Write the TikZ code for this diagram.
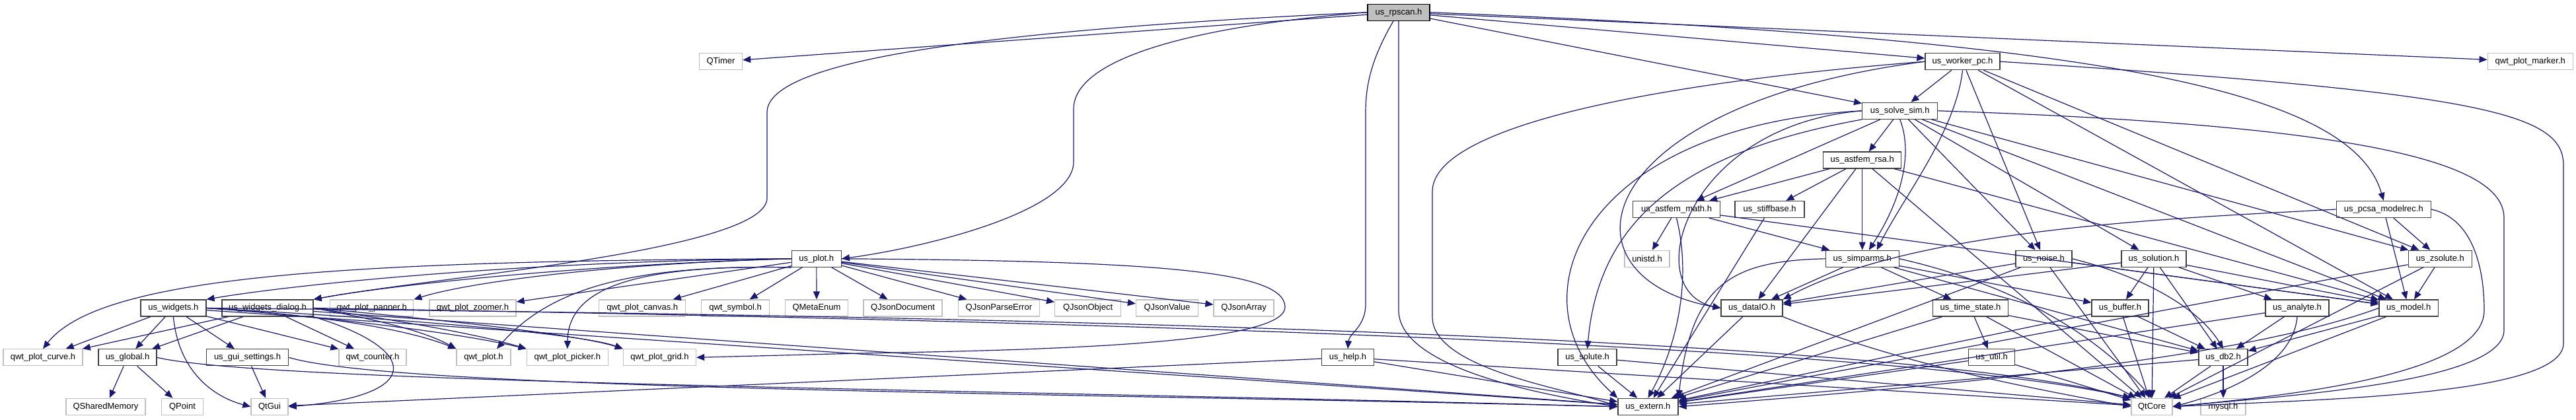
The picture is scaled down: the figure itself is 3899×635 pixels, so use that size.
\documentclass[tikz,border=0pt]{standalone}
\usepackage{fontspec}
\setmainfont{Liberation Sans}
\usetikzlibrary{arrows.meta}
\definecolor{edgec}{HTML}{191970}
\definecolor{greyb}{HTML}{BFBFBF}
\definecolor{docb}{HTML}{404040}
\begin{document}
\begin{tikzpicture}[x=1pt,y=-1pt,
  nd/.style={draw=docb, line width=1.3pt, fill=white, minimum height=25pt, inner sep=0pt, font=\fontsize{13}{15}\selectfont, text=black},
  gn/.style={nd, draw=greyb},
  dep/.style={draw=edgec, line width=1.2pt, -{Triangle[length=12pt,width=10pt]}}]
\fill[white] (0,0) rectangle (3899,635);
\useasboundingbox (0,0) rectangle (3899,635);
% row 0
\node[nd, fill=greyb, draw=black, minimum width=94pt] (rp) at (2117,18.7) {us\_rpscan.h};
% row 1
\node[gn, minimum width=65pt] (qtimer) at (1091,93.2) {QTimer};
\node[nd, minimum width=113pt] (worker) at (2970.5,93.2) {us\_worker\_pc.h};
\node[gn, minimum width=129pt] (marker) at (3829.7,93.2) {qwt\_plot\_marker.h};
% row 2
\node[nd, minimum width=114pt] (solve) at (2875.7,167.8) {us\_solve\_sim.h};
% row 3
\node[nd, minimum width=118pt] (rsa) at (2818.7,242.5) {us\_astfem\_rsa.h};
% row 4
\node[nd, minimum width=132pt] (math) at (2537.5,317) {us\_astfem\_math.h};
\node[nd, minimum width=105pt] (stiff) at (2678.6,317) {us\_stiffbase.h};
\node[nd, minimum width=143pt] (pcsa) at (3607.8,317) {us\_pcsa\_modelrec.h};
% row 5
\node[nd, minimum width=75pt] (plot) at (1235.8,391.8) {us\_plot.h};
\node[gn, minimum width=68pt] (unistd) at (2493,391.8) {unistd.h};
\node[nd, minimum width=111pt] (simparms) at (2818.7,391.8) {us\_simparms.h};
\node[nd, minimum width=85pt] (noise) at (3093.4,391.8) {us\_noise.h};
\node[nd, minimum width=98pt] (solution) at (3260,391.8) {us\_solution.h};
\node[nd, minimum width=96pt] (zsolute) at (3693.3,391.8) {us\_zsolute.h};
% row 6
\node[nd, minimum width=99pt] (widgets) at (262.4,466.5) {us\_widgets.h};
\node[nd, minimum width=138pt] (wdialog) at (405,466.5) {us\_widgets\_dialog.h};
\node[gn, minimum width=126pt] (panner) at (562.8,466.5) {qwt\_plot\_panner.h};
\node[gn, minimum width=131pt] (zoomer) at (715.5,466.5) {qwt\_plot\_zoomer.h};
\node[gn, minimum width=131pt] (canvas) at (972.3,466.5) {qwt\_plot\_canvas.h};
\node[gn, minimum width=103pt] (symbol) at (1113,466.5) {qwt\_symbol.h};
\node[gn, minimum width=95pt] (metaenum) at (1236,466.5) {QMetaEnum};
\node[gn, minimum width=119pt] (jdoc) at (1366.6,466.5) {QJsonDocument};
\node[gn, minimum width=123pt] (jperr) at (1511.9,466.5) {QJsonParseError};
\node[gn, minimum width=100pt] (jobj) at (1646.6,466.5) {QJsonObject};
\node[gn, minimum width=94pt] (jval) at (1766.5,466.5) {QJsonValue};
\node[gn, minimum width=91pt] (jarr) at (1882.6,466.5) {QJsonArray};
\node[nd, minimum width=93pt] (dataio) at (2651.6,466.5) {us\_dataIO.h};
\node[nd, minimum width=114pt] (tstate) at (2982.5,466.5) {us\_time\_state.h};
\node[nd, minimum width=86pt] (buffer) at (3209,466.5) {us\_buffer.h};
\node[nd, minimum width=96pt] (analyte) at (3477,466.5) {us\_analyte.h};
\node[nd, minimum width=89pt] (model) at (3645.6,466.5) {us\_model.h};
% row 7
\node[gn, minimum width=120pt] (curve) at (65,541.3) {qwt\_plot\_curve.h};
\node[nd, minimum width=88pt] (global) at (193,541.3) {us\_global.h};
\node[nd, minimum width=124pt] (gui) at (374.6,541.3) {us\_gui\_settings.h};
\node[gn, minimum width=102pt] (counter) at (564,541.3) {qwt\_counter.h};
\node[gn, minimum width=82pt] (qplot) at (732,541.3) {qwt\_plot.h};
\node[gn, minimum width=123pt] (picker) at (858.8,541.3) {qwt\_plot\_picker.h};
\node[gn, minimum width=110pt] (grid) at (998.5,541.3) {qwt\_plot\_grid.h};
\node[nd, minimum width=79pt] (help) at (2040,541.3) {us\_help.h};
\node[nd, minimum width=89pt] (solute) at (2402.6,541.3) {us\_solute.h};
\node[nd, minimum width=70pt] (util) at (3014.6,541.3) {us\_util.h};
\node[nd, minimum width=74pt] (db2) at (3365,541.3) {us\_db2.h};
% row 8
\node[gn, minimum width=120pt] (shmem) at (160,615.8) {QSharedMemory};
\node[gn, minimum width=63pt] (qpoint) at (276,615.8) {QPoint};
\node[gn, minimum width=56pt] (qtgui) at (408,615.8) {QtGui};
\node[nd, minimum width=91pt] (extern) at (2494.4,615.8) {us\_extern.h};
\node[gn, minimum width=62pt] (qtcore) at (3257,615.8) {QtCore};
\node[gn, minimum width=68pt] (mysql) at (3365,615.8) {mysql.h};

% ---- us_rpscan.h
\draw[dep] (rp) -- (qtimer);
\draw[dep] (rp.west) .. controls (1500,45) and (1161,90) .. (1161,170) -- (1161,300) .. controls (1161,380) and (650,420) .. (wdialog.north east);
\draw[dep] (rp.west) .. controls (1800,40) and (1625,90) .. (1625,165) -- (1625,245) .. controls (1625,320) and (1400,375) .. (plot.east);
\draw[dep] ([xshift=-8pt]rp.south) .. controls (2075,90) and (2067,130) .. (2067,170) -- (2067,460) .. controls (2067,495) and (2042,505) .. (help.north);
\draw[dep] (rp.south) -- (2117,470) .. controls (2117,560) and (2350,600) .. (extern.west);
\draw[dep] (rp) -- (worker);
\draw[dep] (rp) -- (solve);
\draw[dep] (rp) -- (marker);
\draw[dep] (rp.east) .. controls (3200,60) and (3560,140) .. (pcsa.north);
% ---- us_worker_pc.h
\draw[dep] (worker) -- (solve);
\draw[dep] (worker.west) .. controls (2450,130) and (2168,200) .. (2168,290) -- (2168,480) .. controls (2168,560) and (2380,590) .. (extern.west);
\draw[dep] (worker.west) .. controls (2400,160) and (2350,420) .. (dataio.west);
\draw[dep] (worker.south) .. controls (2960,200) and (2880,300) .. ([xshift=22pt]simparms.north);
\draw[dep] (worker) -- (noise);
\draw[dep] (worker) -- (model);
\draw[dep] (worker) -- (zsolute);
\draw[dep] (worker.east) .. controls (3750,140) and (3880,170) .. (3880,250) -- (3880,520) .. controls (3880,600) and (3500,605) .. (qtcore.east);
% ---- us_solve_sim.h
\draw[dep] (solve) -- (rsa);
\draw[dep] (solve) -- (math);
\draw[dep] (solve.south) .. controls (2895,230) and (2880,300) .. ([xshift=10pt]simparms.north);
\draw[dep] (solve) -- (noise);
\draw[dep] (solve) -- (solution);
\draw[dep] (solve.west) .. controls (2550,190) and (2480,440) .. (dataio.west);
\draw[dep] (solve.west) .. controls (2400,190) and (2280,450) .. (extern.north west);
\draw[dep] (solve) -- (model);
\draw[dep] (solve) -- (zsolute);
\draw[dep] (solve.east) .. controls (3600,190) and (3790,250) .. (3790,330) -- (3790,500) .. controls (3790,580) and (3450,600) .. (qtcore.east);
\draw[dep] (solve.south west) .. controls (2550,230) and (2420,330) .. (solute.north);
% ---- us_astfem_rsa.h
\draw[dep] (rsa) -- (stiff);
\draw[dep] (rsa) -- (math);
\draw[dep] (rsa) -- (simparms.north);
\draw[dep] (rsa) -- (dataio);
\draw[dep] (rsa) -- (model);
\draw[dep] (rsa) -- (qtcore);
% ---- us_astfem_math.h
\draw[dep] (math) -- (unistd);
\draw[dep] (math) -- (simparms);
\draw[dep] (math.south) .. controls (2560,420) and (2540,520) .. (extern.north);
\draw[dep] (math) -- (model);
% ---- us_stiffbase.h
\draw[dep] (stiff) -- (extern);
% ---- us_pcsa_modelrec.h
\draw[dep] (pcsa) -- (zsolute);
\draw[dep] (pcsa) -- (model);
\draw[dep] (pcsa.east) .. controls (3740,330) and (3760,400) .. (3760,470) .. controls (3760,570) and (3450,600) .. (qtcore.east);
\draw[dep] (pcsa.west) .. controls (3300,330) and (2900,345) .. (dataio.north east);
% ---- us_plot.h
\draw[dep] (plot.west) .. controls (500,395) and (150,420) .. (curve.north);
\draw[dep] (plot.west) .. controls (800,395) and (450,430) .. (widgets.north east);
\draw[dep] (plot.west) .. controls (900,400) and (600,430) .. (wdialog.north east);
\draw[dep] (plot.west) .. controls (900,400) and (700,430) .. (panner.north east);
\draw[dep] (plot) -- (zoomer);
\draw[dep] (plot) -- (canvas);
\draw[dep] (plot) -- (symbol);
\draw[dep] (plot) -- (metaenum);
\draw[dep] (plot) -- (jdoc);
\draw[dep] (plot) -- (jperr);
\draw[dep] (plot) -- (jobj);
\draw[dep] (plot) -- (jval);
\draw[dep] (plot) -- (jarr);
\draw[dep] (plot.south west) .. controls (950,400) and (830,440) .. ([xshift=20pt]qplot.north);
\draw[dep] (plot.south west) .. controls (950,400) and (860,440) .. (picker.north);
\draw[dep] (plot.east) .. controls (1750,395) and (1945,410) .. (1945,465) .. controls (1945,520) and (1600,530) .. (1300,535) -- (grid.east);
% ---- us_simparms.h
\draw[dep] (simparms) -- (dataio);
\draw[dep] (simparms) -- (tstate);
\draw[dep] (simparms.west) .. controls (2620,395) and (2560,430) .. (extern.north east);
\draw[dep] (simparms) -- (buffer);
\draw[dep] (simparms) -- (db2);
\draw[dep] (simparms.east) .. controls (3000,420) and (3150,480) .. (qtcore.north);
% ---- us_noise.h
\draw[dep] (noise) -- (dataio);
\draw[dep] (noise) -- (extern);
\draw[dep] (noise) -- (model);
\draw[dep] (noise.east) .. controls (3250,420) and (3330,470) .. (db2.north);
\draw[dep] (noise) -- (qtcore);
% ---- us_solution.h
\draw[dep] (solution) -- (buffer);
\draw[dep] (solution) -- (analyte);
\draw[dep] (solution) -- (db2);
\draw[dep] (solution) -- (model);
\draw[dep] (solution) -- (dataio);
\draw[dep] (solution) -- (qtcore);
% ---- us_zsolute.h
\draw[dep] (zsolute) -- (model);
\draw[dep] (zsolute) -- (qtcore);
\draw[dep] (zsolute) -- (extern);
% ---- us_widgets.h
\draw[dep] (widgets) -- (curve);
\draw[dep] (widgets) -- (global);
\draw[dep] (widgets) -- (gui);
\draw[dep] (widgets) -- (counter);
\draw[dep] (widgets.south) .. controls (270,560) and (320,600) .. (qtgui.west);
\draw[dep] (widgets.east) .. controls (500,478) and (620,500) .. (qplot.north west);
\draw[dep] (widgets.east) .. controls (500,480) and (700,505) .. (picker.north west);
\draw[dep] (widgets.east) .. controls (600,482) and (880,505) .. (grid.north west);
\draw[dep] (widgets) -- (extern);
\draw[dep] (widgets.east) .. controls (1800,480) and (2900,520) .. (qtcore.north west);
% ---- us_widgets_dialog.h
\draw[dep] (wdialog) -- (curve);
\draw[dep] (wdialog) -- (global);
\draw[dep] (wdialog) -- (counter);
\draw[dep] (wdialog.east) .. controls (560,482) and (640,500) .. (qplot.north west);
\draw[dep] (wdialog.east) .. controls (600,485) and (720,505) .. (picker.north west);
\draw[dep] (wdialog.east) .. controls (700,487) and (880,508) .. (grid.north west);
\draw[dep] (wdialog) -- (extern);
\draw[dep] (wdialog.south east) .. controls (640,530) and (640,600) .. (qtgui.east);
\draw[dep] (wdialog.east) .. controls (1800,488) and (2900,528) .. (qtcore.north west);
% ---- us_global.h
\draw[dep] (global) -- (shmem);
\draw[dep] (global) -- (qpoint);
\draw[dep] (global.east) .. controls (400,580) and (1500,590) .. (extern.west);
% ---- us_gui_settings.h
\draw[dep] (gui) -- (qtgui);
\draw[dep] (gui.east) .. controls (600,590) and (1600,595) .. (extern.west);
% ---- us_help.h
\draw[dep] (help) -- (extern);
\draw[dep] (help) -- (qtgui);
\draw[dep] (help) -- (qtcore);
% ---- us_solute.h
\draw[dep] (solute) -- (extern);
\draw[dep] (solute) -- (qtcore);
% ---- us_dataIO.h
\draw[dep] (dataio) -- (extern);
\draw[dep] (dataio.south east) .. controls (2850,540) and (3000,575) .. (qtcore.west);
% ---- us_time_state.h
\draw[dep] (tstate) -- (util);
\draw[dep] (tstate) -- (db2);
\draw[dep] (tstate) -- (extern);
\draw[dep] (tstate) -- (qtcore);
% ---- us_buffer.h
\draw[dep] (buffer) -- (db2);
\draw[dep] (buffer) -- (qtcore);
\draw[dep] (buffer) -- (extern);
% ---- us_analyte.h
\draw[dep] (analyte) -- (db2);
\draw[dep] (analyte.south) .. controls (3470,560) and (3350,600) .. (qtcore.east);
\draw[dep] (analyte) -- (extern);
% ---- us_model.h
\draw[dep] (model) -- (db2);
\draw[dep] (model) -- (qtcore);
\draw[dep] (model.west) .. controls (3400,540) and (3000,580) .. (extern.east);
% ---- us_db2.h
\draw[dep] (db2) -- (mysql);
\draw[dep] (db2) -- (qtcore);
\draw[dep] (db2) -- (extern);
% ---- us_util.h
\draw[dep] (util) -- (extern);
\draw[dep] (util) -- (qtcore);
\end{tikzpicture}
\end{document}
